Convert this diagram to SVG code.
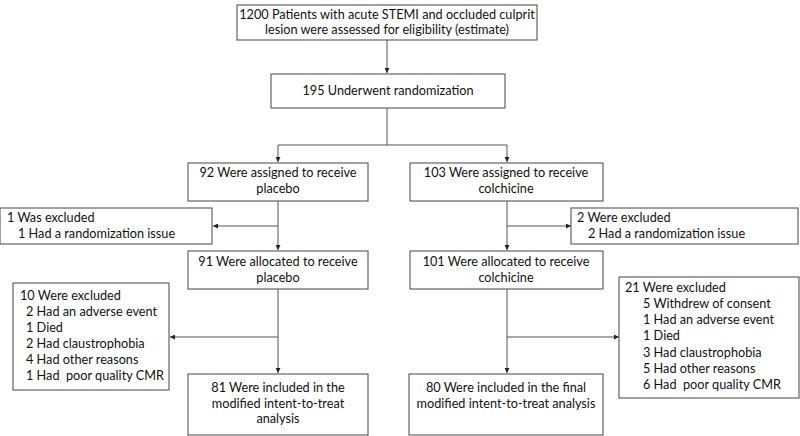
<svg xmlns="http://www.w3.org/2000/svg" width="800" height="436" viewBox="0 0 800 436">
<defs>
<marker id="ah" viewBox="0 0 6 6" refX="6" refY="3" markerWidth="5" markerHeight="5" markerUnits="userSpaceOnUse" orient="auto">
<path d="M0,0 L6,3 L0,6 z" fill="#222"/>
</marker>
<style>
rect{fill:#fff;stroke:#555;stroke-width:1.1}
text{font-family:Lato,"Liberation Sans",sans-serif;font-size:12.7px;fill:#111;white-space:pre}
.c{text-anchor:middle}
.ln{fill:none;stroke:#555;stroke-width:1}
.ar{fill:none;stroke:#555;stroke-width:1;marker-end:url(#ah)}
</style>
</defs>
<rect width="800" height="436" style="fill:#fff;stroke:none"/>
<g id="connectors">
<line class="ar" x1="387" y1="40" x2="387" y2="73"/>
<polyline class="ln" points="387,108 387,145"/>
<polyline class="ar" points="387,145 278,145 278,162"/>
<polyline class="ar" points="387,145 507,145 507,162"/>
<line class="ar" x1="278" y1="201" x2="278" y2="250"/>
<line class="ar" x1="507" y1="201" x2="507" y2="250"/>
<line class="ar" x1="278" y1="226" x2="213" y2="226"/>
<line class="ar" x1="507" y1="226" x2="571" y2="226"/>
<line class="ar" x1="278" y1="289" x2="278" y2="373"/>
<line class="ar" x1="507" y1="289" x2="507" y2="373"/>
<line class="ar" x1="278" y1="337" x2="170" y2="337"/>
<line class="ar" x1="507" y1="337" x2="619" y2="337"/>
</g>
<g id="n-screened">
<rect x="237" y="5" width="300" height="35"/>
<text class="c" x="387" y="19">1200 Patients with acute STEMI and occluded culprit</text>
<text class="c" x="387" y="34">lesion were assessed for eligibility (estimate)</text>
</g>
<g id="n-randomized">
<rect x="271" y="74" width="234" height="34"/>
<text class="c" x="388" y="95">195 Underwent randomization</text>
</g>
<g id="n-placebo-assigned">
<rect x="188" y="163" width="180" height="38"/>
<text class="c" x="278" y="177">92 Were assigned to receive</text>
<text class="c" x="278" y="193">placebo</text>
</g>
<g id="n-colchicine-assigned">
<rect x="410" y="163" width="193" height="38"/>
<text class="c" x="506" y="177">103 Were assigned to receive</text>
<text class="c" x="506" y="193">colchicine</text>
</g>
<g id="n-placebo-excl1">
<rect x="0" y="208" width="212" height="36"/>
<text x="7" y="222">1 Was excluded</text>
<text x="18" y="238">1 Had a randomization issue</text>
</g>
<g id="n-colchicine-excl1">
<rect x="571" y="208" width="227" height="36"/>
<text x="577" y="222">2 Were excluded</text>
<text x="588" y="238">2 Had a randomization issue</text>
</g>
<g id="n-placebo-allocated">
<rect x="188" y="251" width="180" height="38"/>
<text class="c" x="278" y="266">91 Were allocated to receive</text>
<text class="c" x="278" y="282">placebo</text>
</g>
<g id="n-colchicine-allocated">
<rect x="410" y="251" width="193" height="38"/>
<text class="c" x="506" y="266">101 Were allocated to receive</text>
<text class="c" x="506" y="282">colchicine</text>
</g>
<g id="n-placebo-excl2">
<rect x="13" y="283" width="156" height="107"/>
<text x="20" y="300">10 Were excluded</text>
<text x="26" y="316">2 Had an adverse event</text>
<text x="26" y="332">1 Died</text>
<text x="26" y="348">2 Had claustrophobia</text>
<text x="26" y="364">4 Had other reasons</text>
<text x="26" y="380">1 Had  poor quality CMR</text>
</g>
<g id="n-colchicine-excl2">
<rect x="619" y="277" width="180" height="121"/>
<text x="625" y="292">21 Were excluded</text>
<text x="643" y="308">5 Withdrew of consent</text>
<text x="643" y="324">1 Had an adverse event</text>
<text x="643" y="340">1 Died</text>
<text x="643" y="357">3 Had claustrophobia</text>
<text x="643" y="373">5 Had other reasons</text>
<text x="643" y="389">6 Had  poor quality CMR</text>
</g>
<g id="n-placebo-itt">
<rect x="188" y="374" width="180" height="61"/>
<text class="c" x="278" y="392">81 Were included in the</text>
<text class="c" x="278" y="408">modified intent-to-treat</text>
<text class="c" x="278" y="423">analysis</text>
</g>
<g id="n-colchicine-itt">
<rect x="409" y="374" width="194" height="61"/>
<text class="c" x="506" y="392">80 Were included in the final</text>
<text class="c" x="506" y="408">modified intent-to-treat analysis</text>
</g>
</svg>
